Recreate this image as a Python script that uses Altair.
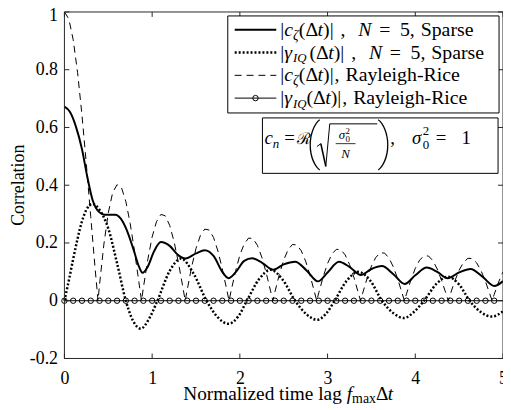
import altair as alt
import pandas as pd

# ---------------- data ----------------
# Rayleigh-Rice |c_zeta(dt)| read on a 0.05 grid, x = 0 .. 5
rr_step = 0.05
rr_c = [1.000, 0.976, 0.904, 0.790, 0.643, 0.472, 0.291, 0.111, 0.055, 0.196,
        0.304, 0.375, 0.402, 0.392, 0.344, 0.267, 0.170, 0.062, 0.045, 0.142,
        0.221, 0.274, 0.299, 0.294, 0.261, 0.205, 0.131, 0.047, 0.038, 0.117,
        0.181, 0.226, 0.248, 0.245, 0.219, 0.172, 0.110, 0.039, 0.034, 0.101,
        0.158, 0.197, 0.217, 0.215, 0.192, 0.151, 0.097, 0.034, 0.031, 0.091,
        0.141, 0.177, 0.195, 0.193, 0.173, 0.137, 0.088, 0.031, 0.028, 0.083,
        0.129, 0.162, 0.178, 0.177, 0.159, 0.126, 0.081, 0.028, 0.026, 0.077,
        0.120, 0.150, 0.166, 0.165, 0.148, 0.117, 0.075, 0.026, 0.024, 0.072,
        0.112, 0.141, 0.155, 0.155, 0.139, 0.110, 0.070, 0.025, 0.023, 0.068,
        0.106, 0.133, 0.147, 0.146, 0.131, 0.104, 0.067, 0.023, 0.022, 0.065,
        0.100]
# points where the dashed curve touches zero
rr_zero_x = [0.383, 0.879, 1.377, 1.877, 2.376, 2.876, 3.376, 3.876, 4.376, 4.876]

# N = 5 sparse |c_zeta(dt)|
sparse_x = [0.0, 0.06, 0.13, 0.2, 0.26, 0.32, 0.4, 0.46, 0.52, 0.58, 0.64, 0.7, 0.79,
            0.85, 0.89, 0.95, 1.02, 1.1, 1.2, 1.3, 1.38, 1.5, 1.6, 1.7, 1.8, 1.87,
            1.95, 2.05, 2.14, 2.25, 2.38, 2.5, 2.63, 2.76, 2.89, 3.0, 3.13, 3.25,
            3.38, 3.5, 3.62, 3.75, 3.88, 4.0, 4.13, 4.25, 4.37, 4.5, 4.63, 4.77,
            4.9, 5.0]
sparse_c = [0.672, 0.655, 0.604, 0.525, 0.43, 0.35, 0.306, 0.298, 0.298, 0.298, 0.285,
            0.252, 0.175, 0.118, 0.097, 0.118, 0.17, 0.203, 0.19, 0.157, 0.146, 0.164,
            0.175, 0.155, 0.1, 0.078, 0.098, 0.138, 0.147, 0.132, 0.107, 0.126, 0.135,
            0.105, 0.067, 0.098, 0.135, 0.117, 0.089, 0.11, 0.12, 0.092, 0.058, 0.088,
            0.115, 0.1, 0.078, 0.098, 0.11, 0.082, 0.051, 0.068]

# N = 5 sparse gamma_IQ(dt)
iq_x = [0.0, 0.05, 0.1, 0.15, 0.2, 0.25, 0.32, 0.4, 0.5, 0.6, 0.7, 0.78, 0.87, 0.96,
        1.06, 1.2, 1.33, 1.47, 1.62, 1.75, 1.87, 1.98, 2.08, 2.22, 2.35, 2.49, 2.63,
        2.76, 2.88, 2.98, 3.08, 3.22, 3.35, 3.49, 3.62, 3.75, 3.87, 3.98, 4.1, 4.24,
        4.37, 4.5, 4.62, 4.75, 4.87, 5.0]
iq_g = [0.0, 0.07, 0.145, 0.215, 0.275, 0.315, 0.335, 0.315, 0.25, 0.13, 0.0, -0.068,
        -0.097, -0.065, 0.0, 0.103, 0.146, 0.095, 0.0, -0.058, -0.08, -0.055, 0.0,
        0.075, 0.107, 0.072, 0.0, -0.047, -0.066, -0.046, 0.0, 0.07, 0.1, 0.068, 0.0,
        -0.043, -0.06, -0.04, 0.0, 0.058, 0.083, 0.056, 0.0, -0.04, -0.055, -0.037]

# Rayleigh-Rice gamma_IQ(dt) (identically zero) and its markers
rr_iq_x = [0.0, 5.0]
rr_iq_g = [0.0, 0.0]
marker_x = [0.0, 0.1, 0.2, 0.3, 0.4, 0.5, 0.6, 0.7, 0.8, 0.9,
            1.0, 1.1, 1.2, 1.3, 1.4, 1.5, 1.6, 1.7, 1.8, 1.9,
            2.0, 2.1, 2.2, 2.3, 2.4, 2.5, 2.6, 2.7, 2.8, 2.9,
            3.0, 3.1, 3.2, 3.3, 3.4, 3.5, 3.6, 3.7, 3.8, 3.9,
            4.0, 4.1, 4.2, 4.3, 4.4, 4.5, 4.6, 4.7, 4.8, 4.9]
marker_y = [0.0] * len(marker_x)

x_ticks = [0, 1, 2, 3, 4, 5]
y_ticks = [-0.2, 0, 0.2, 0.4, 0.6, 0.8, 1]

# ---------------- layout ----------------
FONT = "Liberation Serif"
W, H = 443, 350
OX, OY = 65, 10           # page position of the plot area origin
AX = "#262626"

rr_df = pd.DataFrame({"x": [i * rr_step for i in range(len(rr_c))] + rr_zero_x,
                      "y": rr_c + [0.0] * len(rr_zero_x)}).sort_values("x")
sp_df = pd.DataFrame({"x": sparse_x, "y": sparse_c})
iq_df = pd.DataFrame({"x": iq_x, "y": iq_g})
z_df = pd.DataFrame({"x": rr_iq_x, "y": rr_iq_g})
m_df = pd.DataFrame({"x": marker_x, "y": marker_y})
xt_df = pd.DataFrame({"x": x_ticks})
yt_df = pd.DataFrame({"y": y_ticks})
one = pd.DataFrame({"a": [0]})

xs = alt.Scale(domain=[0, 5], nice=False, zero=False)
ys = alt.Scale(domain=[-0.2, 1], nice=False, zero=False)

xaxis = alt.Axis(values=x_ticks, title=None, ticks=False, domain=False, grid=False,
                 labelFont=FONT, labelFontSize=18, labelColor="black", labelPadding=11,
                 labelFlush=False, labelOverlap=False, format="d")
yaxis = alt.Axis(values=y_ticks, title=None, ticks=False, domain=False, grid=False,
                 labelFont=FONT, labelFontSize=18, labelColor="black", labelPadding=7,
                 labelOverlap=False,
                 labelOffset={"condition": {"test": "datum.value == 1", "value": 4}, "value": 0},
                 labelExpr="(datum.value < 0 ? '-' : '') + format(abs(datum.value), '~g')")

X = alt.X("x:Q", scale=xs, axis=xaxis)
Y = alt.Y("y:Q", scale=ys, axis=yaxis)

layers = []
layers.append(alt.Chart(rr_df).mark_line(color="black", strokeWidth=1, strokeDash=[7, 5]).encode(x=X, y=Y))
layers.append(alt.Chart(sp_df).mark_line(color="black", strokeWidth=2, interpolate="monotone").encode(x=X, y=Y))
layers.append(alt.Chart(iq_df).mark_line(color="black", strokeWidth=2.5, strokeDash=[2, 2],
                                         strokeCap="butt", interpolate="monotone").encode(x=X, y=Y))
layers.append(alt.Chart(z_df).mark_line(color="black", strokeWidth=1).encode(x=X, y=Y))
layers.append(alt.Chart(m_df).mark_point(shape="circle", filled=False, size=30, strokeWidth=1,
                                         color="black", opacity=1).encode(x=X, y=Y))

# inward ticks on all four sides
layers.append(alt.Chart(xt_df).mark_rule(color=AX, strokeWidth=1).encode(
    x=X, y=alt.value(H), y2=alt.value(H - 5)))
layers.append(alt.Chart(xt_df).mark_rule(color=AX, strokeWidth=1).encode(
    x=X, y=alt.value(0), y2=alt.value(5)))
layers.append(alt.Chart(yt_df).mark_rule(color=AX, strokeWidth=1).encode(
    y=Y, x=alt.value(0), x2=alt.value(5)))
layers.append(alt.Chart(yt_df).mark_rule(color=AX, strokeWidth=1).encode(
    y=Y, x=alt.value(W), x2=alt.value(W - 5)))

# ---------------- text helpers ----------------
REG = {' ': 250, '|': 200, '(': 333, ')': 333, ',': 250, '=': 564, '-': 333, 'S': 556,
       'p': 500, 'a': 444, 'r': 333, 's': 389, 'e': 444, 'R': 667, 'y': 500, 'l': 278,
       'i': 278, 'g': 500, 'h': 500, 'c': 444, 'N': 722, 'o': 500, 'm': 778, 'z': 444,
       'd': 500, 't': 278, 'n': 500, 'x': 500, 'f': 333, 'I': 333, 'Q': 722, 'Δ': 612,
       'C': 667}
ITA = {'c': 444, 't': 278, 'N': 667, 'f': 278, 'I': 333, 'Q': 722, 'n': 500,
       'ζ': 420, 'γ': 440, 'σ': 500}


def tw(text, size, italic):
    table = ITA if italic else REG
    return sum(table.get(ch, REG.get(ch, 500)) for ch in text) * size / 1000.0


def txt(text, xp, yp, size=18, italic=False, align="left", baseline="alphabetic", angle=0,
        font=FONT, weight="normal"):
    return alt.Chart(one).mark_text(text=text, font=font, fontSize=size,
                                    fontStyle="italic" if italic else "normal",
                                    fontWeight=weight,
                                    align=align, baseline=baseline, angle=angle,
                                    color="black").encode(
        x=alt.value(xp - OX), y=alt.value(yp - OY))


def run(xp, yp, parts):
    out = []
    x = xp
    for text, size, italic, dy in parts:
        out.append(txt(text, x, yp + dy, size, italic))
        x += tw(text, size, italic)
    return out, x


def rule(x1, y1, x2, y2, width=1.0, dash=None, color="black"):
    kw = dict(color=color, strokeWidth=width)
    if dash:
        kw["strokeDash"] = dash
        kw["strokeCap"] = "butt"
    return alt.Chart(one).mark_rule(**kw).encode(
        x=alt.value(x1 - OX), x2=alt.value(x2 - OX),
        y=alt.value(y1 - OY), y2=alt.value(y2 - OY))


def box(x1, y1, x2, y2):
    return alt.Chart(one).mark_rect(fill="white", stroke="black", strokeWidth=1).encode(
        x=alt.value(x1 - OX), x2=alt.value(x2 - OX),
        y=alt.value(y1 - OY), y2=alt.value(y2 - OY))


# frame
layers.append(rule(OX, OY, OX + W, OY, color=AX))
layers.append(rule(OX, OY + H, OX + W, OY + H, color=AX))
layers.append(rule(OX, OY, OX, OY + H, color=AX))
layers.append(rule(OX + W, OY, OX + W, OY + H, color=AX))

# ---------------- axis titles ----------------
layers.append(txt("Correlation", 19, 185, 18, align="center", baseline="middle", angle=270))
xt_parts = [("Normalized time lag ", 19.5, False, 0), ("f", 19.5, True, 0), ("max", 14, False, 3),
            ("Δ", 19.5, False, 0), ("t", 19.5, True, 0)]
xt_w = sum(tw(t, s, i) for t, s, i, _ in xt_parts)
ls, _ = run(291 - xt_w / 2, 402, xt_parts)
layers += ls

# ---------------- legend ----------------
FS = 20
layers.append(box(230, 14, 504, 112))
rows = [34, 57, 80, 103]
layers.append(rule(237, 28, 279, 28, width=2))
layers.append(rule(237, 51, 279, 51, width=2.5, dash=[2, 2]))
layers.append(rule(237, 74, 279, 74, width=1, dash=[7, 5]))
layers.append(rule(237, 97, 279, 97, width=1))
layers.append(alt.Chart(one).mark_point(shape="circle", filled=False, size=30, strokeWidth=1,
                                        color="black", opacity=1).encode(
    x=alt.value(258 - OX), y=alt.value(97 - OY)))

c_part = [("|", FS, False, 0), ("c", FS, True, 0), ("ζ", 14, True, 4),
          ("(Δ", FS, False, 0), ("t", FS, True, 0), (")|", FS, False, 0)]
g_part = [("|", FS, False, 0), ("γ", FS, True, 0), ("IQ", 13, True, 4),
          ("(Δ", FS, False, 0), ("t", FS, True, 0), (")|", FS, False, 0)]
g_part_sp = [("|", FS, False, 0), ("γ", FS, True, 0), ("IQ", 13, True, 4), (" ", 12, False, 0),
             ("(Δ", FS, False, 0), ("t", FS, True, 0), (")|", FS, False, 0)]


def sparse_tail(e, yb):
    return [txt(",", e + 7, yb, FS), txt("N", e + 25, yb, FS, True),
            txt("=", e + 46, yb, FS), txt("5,", e + 67, yb, FS),
            txt("Sparse", e + 88, yb, FS)]


def rr_tail(e, yb):
    return [txt(",", e + 1, yb, FS), txt("Rayleigh-Rice", e + 12, yb, FS)]


ls, e = run(283, rows[0], c_part)
layers += ls + sparse_tail(e, rows[0])
ls, e = run(283, rows[1], g_part_sp)
layers += ls + sparse_tail(e, rows[1])
ls, e = run(283, rows[2], c_part)
layers += ls + rr_tail(e, rows[2])
ls, e = run(283, rows[3], g_part)
layers += ls + rr_tail(e, rows[3])

# ---------------- equation box ----------------
layers.append(box(265, 117, 503, 173))
EB = 143
layers.append(txt("c", 267, EB, 19, True))
layers.append(txt("n", 275.5, EB + 4, 13, True))
layers.append(txt("=", 287, EB, 19))
layers.append(txt("ℛ", 300, EB, 16))
layers.append(txt("(", 309, 158, 50, font="Roboto", weight=100))
# radical sign
layers.append(rule(320, 146, 324, 143, width=1))
layers.append(rule(324, 143, 329, 166, width=1.6))
layers.append(rule(329, 166, 333, 123, width=1))
layers.append(rule(333, 123, 381, 123, width=1))
# fraction sigma_0^2 / N
layers.append(txt("σ", 342, 138, 13, True))
layers.append(txt("0", 349, 141, 9))
layers.append(txt("2", 349, 133, 9))
layers.append(rule(339, 143, 359, 143, width=0.8))
layers.append(txt("N", 349, 157, 13, True, align="center"))
layers.append(txt(")", 381, 158, 50, font="Roboto", weight=100))
layers.append(txt(",", 394, EB, 19))
layers.append(txt("σ", 416, EB, 19, True))
layers.append(txt("0", 427, EB + 5, 13))
layers.append(txt("2", 427, EB - 9, 13))
layers.append(txt("=", 440, EB, 19))
layers.append(txt("1", 466, EB, 19))

chart = alt.layer(*layers).properties(
    width=W, height=H,
    padding={"left": OX - 8, "top": OY - 8, "right": 0, "bottom": 48},
    autosize=alt.AutoSizeParams(type="none"),
).configure_view(strokeWidth=0)

chart.save("out.html", embed_options={"renderer": "svg", "actions": False})
